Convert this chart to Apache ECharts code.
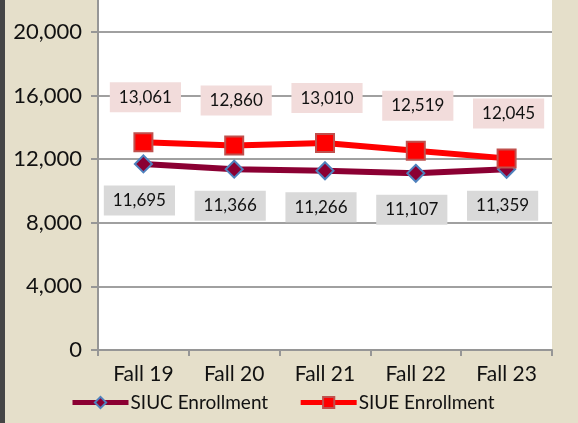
<!DOCTYPE html>
<html>
<head>
<meta charset="utf-8">
<script src="https://cdn.jsdelivr.net/npm/echarts@6/dist/echarts.min.js"></script>
<style>
  html, body { margin: 0; padding: 0; background: #e5dfca; }
  #chart { width: 578px; height: 423px; border-left: 5px solid #454545; box-sizing: border-box; }
</style>
</head>
<body>
<div id="chart"></div>
<script>
const terms = ['Fall 19', 'Fall 20', 'Fall 21', 'Fall 22', 'Fall 23']
const siuc = [11695, 11366, 11266, 11107, 11359]
const siue = [13061, 12860, 13010, 12519, 12045]

const fmt = (v) => v.toLocaleString('en-US')
const font = 'Lato, "Open Sans", sans-serif'

const chart = echarts.init(document.getElementById('chart'))
chart.setOption({
  backgroundColor: '#e5dfca',
  textStyle: { fontFamily: font },
  grid: { left: 93, right: 26, top: 0, bottom: 73, backgroundColor: '#fff', show: true, borderWidth: 0 },
  legend: {
    bottom: 6,
    left: 60,
    itemWidth: 56,
    itemHeight: 14,
    itemGap: 30,
    lineStyle: { width: 5 },
    textStyle: { fontSize: 19, color: '#111', fontFamily: font, padding: [0, 0, 0, -3] },
    data: ['SIUC Enrollment', 'SIUE Enrollment'],
  },
  xAxis: {
    type: 'category',
    data: terms,
    boundaryGap: true,
    axisLine: { lineStyle: { color: '#969696', width: 2 } },
    axisTick: { show: true, length: 6, lineStyle: { color: '#969696', width: 2 } },
    axisLabel: { fontSize: 21, color: '#111', margin: 14 },
  },
  yAxis: {
    type: 'value',
    min: 0,
    max: 22000,
    interval: 4000,
    axisLine: { show: true, lineStyle: { color: '#969696', width: 2 } },
    axisTick: { show: true, length: 7, lineStyle: { color: '#969696', width: 2 } },
    axisLabel: { fontSize: 22, color: '#111', margin: 16, formatter: (v) => fmt(v), showMaxLabel: false },
    splitLine: { show: true, showMaxLine: false, lineStyle: { color: '#a0a0a0', width: 2 } },
  },
  series: [
    {
      name: 'SIUC Enrollment',
      type: 'line',
      data: siuc,
      symbol: 'diamond',
      symbolSize: 17,
      lineStyle: { color: '#8b0033', width: 6 },
      itemStyle: { color: '#8b0033', borderColor: '#4f81bd', borderWidth: 2 },
      z: 2,
      label: {
        show: true,
        position: 'bottom',
        distance: 12,
        offset: [-4, 0],
        formatter: (p) => fmt(p.value),
        fontSize: 17,
        color: '#111',
        backgroundColor: '#d9d9d9',
        padding: [6, 9],
        lineHeight: 18,
      },
    },
    {
      name: 'SIUE Enrollment',
      type: 'line',
      data: siue,
      symbol: 'rect',
      symbolSize: 18,
      lineStyle: { color: '#ff0000', width: 6 },
      itemStyle: { color: '#ff0000', borderColor: '#c0504d', borderWidth: 2 },
      z: 3,
      label: {
        show: true,
        position: 'top',
        distance: 20,
        offset: [2, 0],
        formatter: (p) => fmt(p.value),
        fontSize: 17,
        color: '#111',
        backgroundColor: '#f2dcdb',
        padding: [6, 9],
        lineHeight: 18,
      },
    },
  ],
})
</script>
</body>
</html>
